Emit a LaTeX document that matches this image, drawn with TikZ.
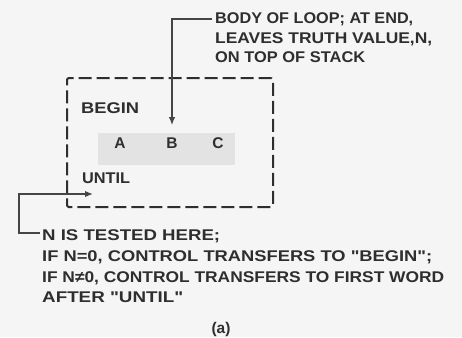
\documentclass[tikz,border=0pt]{standalone}
\usepackage{fontspec}
\setmainfont{Liberation Sans}[Ligatures=TeXOff]
\usetikzlibrary{arrows.meta}
\definecolor{bg}{HTML}{F5F5F5}
\definecolor{ink}{HTML}{2E2E2E}
\definecolor{wire}{HTML}{454545}
\definecolor{bandgray}{HTML}{E3E3E3}
\newcommand\hfitw[2]{\resizebox{#1}{\height}{#2}}
\begin{document}
\begin{tikzpicture}[x=1pt,y=-1pt,
  lbl/.style={font=\fontsize{15.5}{19}\selectfont\bfseries, text=ink, inner sep=0pt, anchor=base west},
  letter/.style={lbl, anchor=base},
  conn/.style={draw=wire, line width=1.5pt, -{Latex[length=8pt,width=6.5pt]}},
  loopbox/.style={draw=ink, line width=2pt, dash pattern=on 13pt off 5pt, minimum width=206pt, minimum height=129pt, inner sep=0pt, rounded corners=1.5pt},
  bandbox/.style={fill=bandgray, minimum width=137pt, minimum height=32pt, inner sep=0pt}]
\fill[bg] (0,0) rectangle (462,337);
\useasboundingbox (0,0) rectangle (462,337);
% loop box and body band
\node[loopbox] (loop) at (170,142.5) {};
\node[bandbox] (band) at (166.5,149) {};
\node[letter] (A) at (120,148) {A};
\node[letter] (B) at (172,148) {B};
\node[letter] (C) at (218,148) {C};
\node[lbl] (begin) at (81,113) {\hfitw{58pt}{BEGIN}};
\node[lbl] (until) at (82,183) {\hfitw{48pt}{UNTIL}};
% top annotation
\node[lbl] (t1) at (215,24) {\hfitw{198pt}{BODY OF LOOP; AT END,}};
\node[lbl] (t2) at (215,44) {\hfitw{217pt}{LEAVES TRUTH VALUE,N,}};
\node[lbl] (t3) at (215,63) {\hfitw{150pt}{ON TOP OF STACK}};
% bottom annotation
\node[lbl] (n1) at (42,240) {\hfitw{178pt}{N IS TESTED HERE;}};
\node[lbl] (n2) at (42,261) {\hfitw{390pt}{IF N=0, CONTROL TRANSFERS TO "BEGIN";}};
\node[lbl] (n3) at (42,282) {\hfitw{402pt}{IF N≠0, CONTROL TRANSFERS TO FIRST WORD}};
\node[lbl] (n4) at (42,302) {\hfitw{141pt}{AFTER "UNTIL"}};
\node[letter] (cap) at (221,333) {(a)};
% connectors
\coordinate (t0) at (212,19);
\draw[conn] (t0) -| ([yshift=12pt]B.north);
\coordinate (b0) at (40,233);
\coordinate (bl) at (19,194);
\coordinate (u0) at (93,194);
\draw[conn] (b0) -| (bl) -- (u0);
\end{tikzpicture}
\end{document}
